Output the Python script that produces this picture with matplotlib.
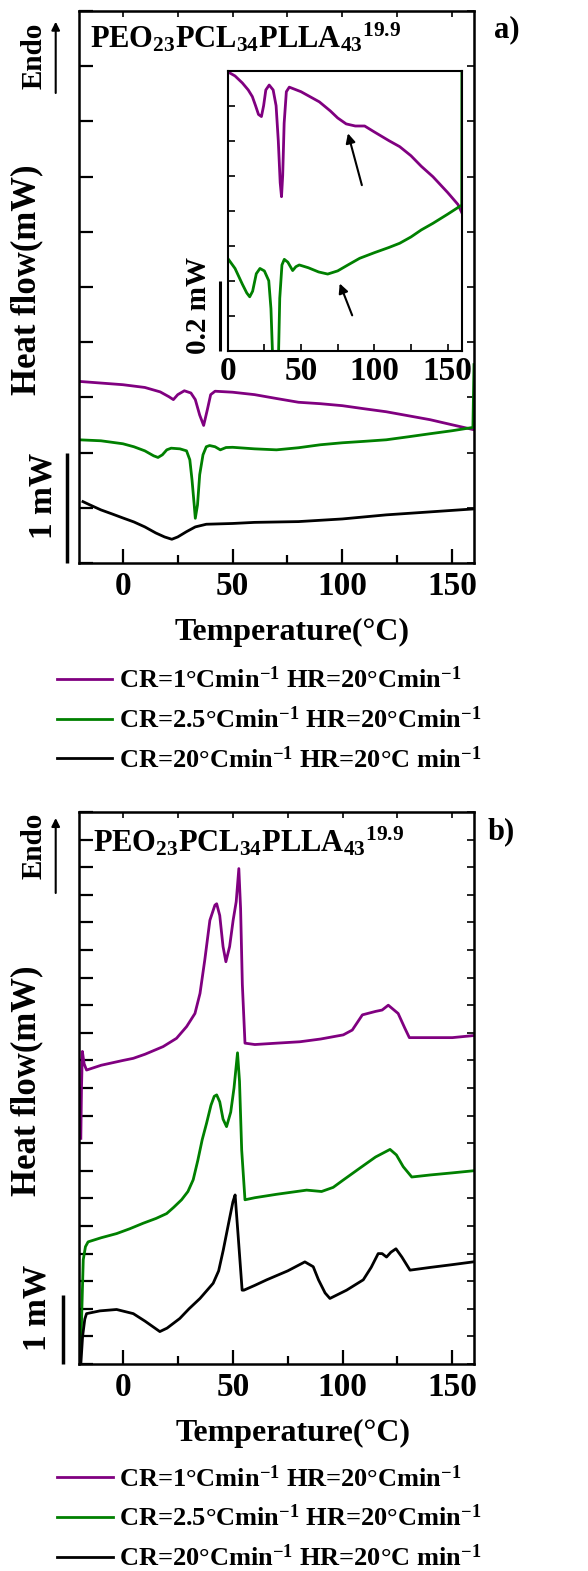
import matplotlib
matplotlib.use("Agg")
import matplotlib.pyplot as plt
from matplotlib.ticker import MultipleLocator, NullFormatter
from matplotlib.transforms import blended_transform_factory

plt.rcParams['font.family'] = ['Liberation Serif', 'DejaVu Serif']
plt.rcParams['font.weight'] = 'bold'
plt.rcParams['axes.labelweight'] = 'bold'
plt.rcParams['mathtext.fontset'] = 'custom'
plt.rcParams['mathtext.rm'] = 'Liberation Serif:bold'
plt.rcParams['mathtext.it'] = 'Liberation Serif:bold'
plt.rcParams['mathtext.bf'] = 'Liberation Serif:bold'

PURPLE = '#800080'
GREEN = '#008000'

title_text = r'PEO$_{23}$PCL$_{34}$PLLA$_{43}$$^{19.9}$'
legend_labels = [r'CR=1°Cmin$^{-1}$ HR=20°Cmin$^{-1}$',
                 r'CR=2.5°Cmin$^{-1}$ HR=20°Cmin$^{-1}$',
                 r'CR=20°Cmin$^{-1}$ HR=20°C min$^{-1}$']
xticks_main = [0, 50, 100, 150]

# ---- panel a (cooling), heat flow in mW, arbitrary offset
a_T_purple = [-20, -10, 0, 10, 17, 21, 23, 25, 28, 31, 33, 35, 36.8, 38.5, 40, 42,
              50, 60, 70, 80, 90, 100, 110, 120, 130, 140, 150, 160]
a_y_purple = [1.645, 1.63, 1.615, 1.59, 1.55, 1.506, 1.48, 1.525, 1.56, 1.54, 1.48, 1.34,
              1.246, 1.39, 1.525, 1.556, 1.547, 1.525, 1.49, 1.456, 1.443, 1.425, 1.397,
              1.37, 1.334, 1.298, 1.252, 1.207]

a_T_green = [-20, -10, 0, 5, 10, 14, 16, 18, 20, 22, 26, 29, 30.5, 31.5, 32.5, 33, 34, 35,
             36.5, 38, 39.5, 42, 44.4, 47, 50, 60, 70, 80, 90, 100, 110, 120, 130, 140,
             150, 159.5, 160]
a_y_green = [1.116, 1.107, 1.08, 1.053, 1.016, 0.971, 0.956, 0.98, 1.025, 1.04, 1.034,
             1.016, 0.935, 0.753, 0.526, 0.405, 0.526, 0.80, 0.98, 1.053, 1.064, 1.053,
             1.025, 1.046, 1.048, 1.034, 1.025, 1.044, 1.071, 1.089, 1.102, 1.116, 1.143,
             1.171, 1.198, 1.228, 1.797]

a_T_black = [-18.2, -15, -10, -5, 0, 5, 10, 15, 19, 22.3, 25, 29, 33, 38, 50, 60, 80,
             100, 120, 140, 160]
a_y_black = [0.556, 0.526, 0.481, 0.445, 0.408, 0.372, 0.327, 0.272, 0.236, 0.215, 0.236,
             0.284, 0.327, 0.351, 0.358, 0.368, 0.375, 0.399, 0.436, 0.463, 0.49]

# ---- inset of panel a (zoomed, mW)
in_T_purple = [0, 5, 10, 14, 16.8, 19, 21, 23, 24.5, 26, 28.3, 31, 33, 34.5, 35.8, 36.7,
               37.5, 38.5, 40, 42, 50, 62.5, 70, 75, 80.8, 87, 93.4, 100, 110, 117.3, 125,
               132, 140, 150, 157, 159.6]
in_y_purple = [0.797, 0.785, 0.765, 0.745, 0.726, 0.70, 0.675, 0.669, 0.70, 0.745, 0.759,
               0.745, 0.70, 0.60, 0.48, 0.44, 0.50, 0.65, 0.74, 0.753, 0.74, 0.711, 0.685,
               0.665, 0.648, 0.642, 0.642, 0.625, 0.60, 0.583, 0.557, 0.527, 0.497, 0.452,
               0.418, 0.395]

in_T_green = [0, 5, 10, 13, 15, 17, 19.5, 22, 25, 28, 29.5, 30.5, 31.5, 33, 34.2, 35.5, 37,
              38.6, 41, 44.3, 46.5, 48.8, 55, 62, 68.2, 75, 82, 90, 100, 110, 117.3, 125,
              132, 140, 150, 159.6, 159.7]
in_y_green = [0.264, 0.235, 0.19, 0.165, 0.154, 0.17, 0.22, 0.235, 0.228, 0.20, 0.12, 0.0,
              -0.2, -0.4, -0.1, 0.15, 0.245, 0.261, 0.253, 0.229, 0.24, 0.245, 0.237, 0.225,
              0.219, 0.228, 0.245, 0.264, 0.28, 0.295, 0.307, 0.325, 0.345, 0.364, 0.39,
              0.416, 0.85]

in_arrow_tails = [(91.5, 0.473), (84.9, 0.101)]
in_arrow_heads = [(82.0, 0.621), (76.4, 0.192)]

# ---- panel b (heating), mW
b_T_purple = [-19.3, -19.0, -18.6, -17.8, -16.7, -10, 0, 4.6, 10, 18.2, 24.3, 28.9, 32.7,
              35, 37.2, 39.5, 41.8, 42.6, 44, 45.5, 46.8, 48.5, 50.1, 51.5, 52.7, 53.5, 54.3,
              55.5, 60, 70, 80.5, 90, 100.3, 104.4, 109, 115, 118, 120.8, 125.3, 128.3,
              130.4, 140, 150, 159.7]
b_y_purple = [3.27, 4.0, 4.53, 4.35, 4.26, 4.33, 4.40, 4.43, 4.49, 4.60, 4.72, 4.89, 5.08,
              5.37, 5.86, 6.43, 6.65, 6.67, 6.50, 6.05, 5.83, 6.05, 6.43, 6.70, 7.18,
              6.60, 5.50, 4.65, 4.63, 4.65, 4.67, 4.71, 4.77, 4.84, 5.06, 5.11, 5.13, 5.20,
              5.08, 4.87, 4.73, 4.73, 4.73, 4.76]

b_T_green = [-19.7, -19.0, -18.2, -17.2, -16, -10, -3, 3, 9.1, 15, 19.8, 23, 26.6, 29.5,
             31.9, 34, 36, 38, 40, 41.5, 42.6, 44, 45.5, 47.1, 49, 50.5, 52.1, 53, 54, 55.5,
             60, 70, 83.6, 90.4, 95.7, 100, 107.9, 115, 121.6, 124.5, 127.6, 131.5, 140,
             150, 159.5]
b_y_green = [0.0, 0.6, 1.51, 1.70, 1.77, 1.83, 1.89, 1.96, 2.04, 2.11, 2.18, 2.27, 2.38,
             2.50, 2.67, 2.95, 3.25, 3.49, 3.75, 3.88, 3.90, 3.80, 3.55, 3.44, 3.65, 4.0,
             4.51, 4.1, 3.1, 2.38, 2.41, 2.46, 2.52, 2.50, 2.56, 2.66, 2.84, 3.00, 3.11,
             3.03, 2.86, 2.71, 2.74, 2.77, 2.80]

b_T_black = [-19.3, -18.5, -17.5, -16.7, -10.6, -3, 4.6, 10, 16.7, 20, 25.8, 30, 35, 41,
             43.5, 45.6, 48.6, 50, 51, 52.5, 54.2, 55, 60, 65.4, 75, 82.8, 86.6, 89, 92,
             94.2, 101.8, 109.4, 113, 116.2, 118, 120, 122, 124.3, 127, 130.7, 140, 150,
             159.5]
b_y_black = [0.0, 0.4, 0.65, 0.73, 0.77, 0.79, 0.73, 0.62, 0.47, 0.52, 0.66, 0.80, 0.95,
             1.17, 1.35, 1.65, 2.13, 2.35, 2.45, 1.81, 1.07, 1.07, 1.14, 1.22, 1.35, 1.48,
             1.41, 1.22, 1.03, 0.95, 1.07, 1.22, 1.40, 1.60, 1.60, 1.55, 1.62, 1.67, 1.55,
             1.36, 1.40, 1.44, 1.48]

W, H = 588, 1571


def fxy(px, py):
    # pixel position (from top left) to figure fraction
    return px / W, 1 - py / H


def style_main(ax, ymax, ystep):
    ax.set_xlim(-20, 160)
    ax.set_ylim(0, ymax)
    ax.set_xticks(xticks_main)
    ax.xaxis.set_minor_locator(MultipleLocator(25))
    ax.yaxis.set_major_locator(MultipleLocator(ystep))
    ax.yaxis.set_major_formatter(NullFormatter())
    ax.tick_params(axis='x', which='major', direction='in', length=10, width=1.6,
                   labelsize=24, pad=6)
    ax.tick_params(axis='x', which='minor', direction='in', length=6, width=1.6)
    ax.tick_params(axis='y', direction='in', length=10, width=1.6)
    for s in ax.spines.values():
        s.set_linewidth(1.8)
    top = ax.secondary_xaxis('top')
    top.set_xticks(range(0, 151, 25))
    top.xaxis.set_major_formatter(NullFormatter())
    top.tick_params(direction='in', length=4, width=1.2)
    right = ax.secondary_yaxis('right')
    right.yaxis.set_major_locator(MultipleLocator(ystep))
    right.yaxis.set_major_formatter(NullFormatter())
    right.tick_params(direction='in', length=5, width=1.2)
    ax.set_xlabel('Temperature(°C)', fontsize=23, fontweight='bold')
    ax.xaxis.set_label_coords(0.54, -0.1)
    ax.set_ylabel('Heat flow(mW)', fontsize=25, fontweight='bold', va='center')
    ax.yaxis.set_label_coords(-0.132, 0.513)


def scale_bar(ax, xfrac, length, lw=2.5):
    tr = blended_transform_factory(ax.transAxes, ax.transData)
    ax.plot([xfrac, xfrac], [0, length], color='k', lw=lw, transform=tr,
            clip_on=False, solid_capstyle='butt')


def endo_arrow(py_bottom, py_top, text_y):
    fig.text(*fxy(34, text_y), 'Endo', rotation=90, ha='center', va='center',
             fontsize=21)
    plt.annotate('', xy=fxy(55.7, py_top), xytext=fxy(55.7, py_bottom),
                 xycoords='figure fraction', textcoords='figure fraction',
                 arrowprops=dict(arrowstyle='-|>', lw=1.5, color='k',
                                 mutation_scale=12, shrinkA=0, shrinkB=0),
                 annotation_clip=False)


fig = plt.figure(figsize=(W / 100, H / 100), dpi=100)

# ---------------- panel a
ax_a = fig.add_axes([79 / W, 1 - 563 / H, 395 / W, 552 / H])
ax_a.plot(a_T_purple, a_y_purple, color=PURPLE, lw=2, label=legend_labels[0])
ax_a.plot(a_T_green, a_y_green, color=GREEN, lw=2, label=legend_labels[1])
ax_a.plot(a_T_black, a_y_black, color='k', lw=2, label=legend_labels[2])
style_main(ax_a, 5.0, 0.5)
ax_a.text(0.028, 0.933, title_text, transform=ax_a.transAxes, ha='left',
          va='baseline', fontsize=22)
scale_bar(ax_a, -0.031, 1.0)
fig.text(*fxy(43, 496), '1 mW', rotation=90, ha='center', va='center', fontsize=24)
endo_arrow(93, 21.7, 56)
fig.text(*fxy(507, 30), 'a)', ha='center', va='center', fontsize=22)
ax_a.legend(loc='upper left', bbox_to_anchor=(-0.0557, -0.188), frameon=False,
            fontsize=19, handlelength=2.1, handletextpad=0.25, labelspacing=0.5,
            borderpad=0, borderaxespad=0)

# inset
ax_in = fig.add_axes([227.7 / W, 1 - 350.7 / H, 234.6 / W, 280 / H])
ax_in.plot(in_T_purple, in_y_purple, color=PURPLE, lw=2)
ax_in.plot(in_T_green, in_y_green, color=GREEN, lw=2)
for tail, head in zip(in_arrow_tails, in_arrow_heads):
    ax_in.annotate('', xy=head, xytext=tail,
                   arrowprops=dict(arrowstyle='-|>', lw=1.5, color='k',
                                   mutation_scale=14, shrinkA=0, shrinkB=0))
ax_in.set_xlim(0, 160)
ax_in.set_ylim(0, 0.8)
ax_in.set_xticks(xticks_main)
ax_in.xaxis.set_minor_locator(MultipleLocator(25))
ax_in.yaxis.set_major_locator(MultipleLocator(0.1))
ax_in.yaxis.set_major_formatter(NullFormatter())
ax_in.tick_params(axis='both', which='both', direction='in', length=5, width=1.2)
ax_in.tick_params(axis='x', labelsize=24, pad=4)
for s in ax_in.spines.values():
    s.set_linewidth(1.5)
scale_bar(ax_in, -0.033, 0.2, lw=2.2)
fig.text(*fxy(198, 305), '0.2 mW', rotation=90, ha='center', va='center', fontsize=21)

# ---------------- panel b
ax_b = fig.add_axes([79.3 / W, 1 - 1364 / H, 395 / W, 552 / H])
ax_b.plot(b_T_purple, b_y_purple, color=PURPLE, lw=2, label=legend_labels[0])
ax_b.plot(b_T_green, b_y_green, color=GREEN, lw=2, label=legend_labels[1])
ax_b.plot(b_T_black, b_y_black, color='k', lw=2, label=legend_labels[2])
style_main(ax_b, 8.0, 0.4)
ax_b.text(0.035, 0.928, title_text, transform=ax_b.transAxes, ha='left',
          va='baseline', fontsize=22)
scale_bar(ax_b, -0.0405, 1.0)
fig.text(*fxy(37, 1308), '1 mW', rotation=90, ha='center', va='center', fontsize=24)
endo_arrow(893, 818, 846)
fig.text(*fxy(501, 832), 'b)', ha='center', va='center', fontsize=22)
ax_b.legend(loc='upper left', bbox_to_anchor=(-0.0557, -0.183), frameon=False,
            fontsize=19, handlelength=2.1, handletextpad=0.25, labelspacing=0.5,
            borderpad=0, borderaxespad=0)

fig.savefig('out.png', dpi=100)
